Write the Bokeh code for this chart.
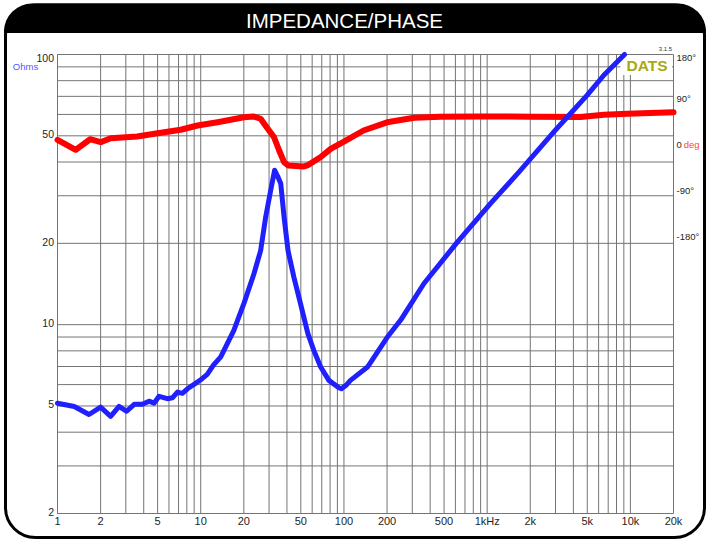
import math
from bokeh.plotting import figure
from bokeh.models import Range1d, LinearScale, Label, BoxAnnotation
from bokeh.core.properties import value
from bokeh.embed import file_html
from bokeh.resources import INLINE

# ---- data ----
freq_z = [1.0, 1.31, 1.66, 2.0, 2.35, 2.69, 3.04, 3.43, 3.92, 4.36, 4.72, 5.12, 5.85, 6.34,
          6.88, 7.44, 8.08, 8.98, 10.0, 11.1, 12.3, 13.8, 17.0, 20.0, 23.5, 26.2, 28.4, 30.8,
          32.8, 34.4, 36.2, 38.2, 40.7, 44.7, 49.1, 56.0, 61.6, 68.8, 78.5, 92.2, 96.0, 103,
          111, 146, 201, 249, 362, 619, 1057, 1665, 2921, 3820, 4994, 6520, 9100]
impedance = [5.12, 4.98, 4.65, 4.95, 4.58, 4.98, 4.78, 5.07, 5.07, 5.21, 5.12, 5.43, 5.32, 5.36,
             5.63, 5.57, 5.79, 6.01, 6.25, 6.55, 7.1, 7.6, 9.5, 11.96, 15.4, 18.8, 25.0, 31.4,
             37.3, 35.5, 33.3, 25.0, 18.8, 15.0, 12.3, 9.26, 8.03, 6.97, 6.22, 5.84, 5.79, 5.95,
             6.22, 6.97, 9.0, 10.4, 14.2, 20.2, 28.1, 36.7, 51.7, 60.5, 70.7, 83.8, 100]

freq_ph = [1.0, 1.34, 1.69, 2.0, 2.35, 3.6, 5.0, 7.25, 9.5, 13.1, 20.0, 23.5, 26.2, 28.3,
           32.5, 35.3, 38.2, 40.8, 52.5, 55.5, 68.5, 80.8, 100, 137, 200, 309, 473, 900,
           2000, 4500, 6520, 9500, 20000]
phase = [12.7, -6.9, 13.9, 8.0, 15.9, 19.2, 25.7, 32.4, 40.8, 47.3, 57.0, 58.4, 54.0, 40.8,
         17.8, -8.2, -31.0, -37.6, -39.6, -37.6, -21.4, -5.0, 9.0, 31.0, 47.0, 56.0, 58.0, 58.5,
         58.0, 57.5, 62.0, 64.0, 67.0]

x_tick_values = [1, 2, 5, 10, 20, 50, 100, 200, 500, 1000, 2000, 5000, 10000, 20000]
x_tick_labels = ["1", "2", "5", "10", "20", "50", "100", "200", "500", "1kHz", "2k", "5k", "10k", "20k"]
y_tick_values = [2, 5, 10, 20, 50, 100]
y_tick_labels = ["2", "5", "10", "20", "50", "100"]
phase_tick_values = [180, 90, 0, -90, -180]
phase_tick_labels = ["180°", "90°", "0", "-90°", "-180°"]

x_grid_values = [1, 2, 3, 4, 5, 6, 7, 8, 9, 10, 20, 30, 40, 50, 60, 70, 80, 90,
                 100, 200, 300, 400, 500, 600, 700, 800, 900,
                 1000, 2000, 3000, 4000, 5000, 6000, 7000, 8000, 9000, 10000]
y_grid_values = [3, 4, 5, 6, 7, 8, 9, 10, 20, 30, 40, 50, 60, 70, 80, 90]

# ---- layout constants (pixels) ----
W, H = 708, 539
XL, XR, YT, YB = 57.0, 673.0, 54.0, 513.0          # chart area inside the canvas
FMIN, FMAX, ZMIN, ZMAX, PMIN, PMAX = 1, 20000, 2, 100, -720, 180

FONT = "Liberation Sans"
GRID = "#747474"
TXT = "#1e1e1e"

# ranges extended so that the chart area sits at the reference's place in the canvas
xdec = (XR - XL) / math.log10(FMAX / FMIN)
ydec = (YB - YT) / math.log10(ZMAX / ZMIN)
dpp = (PMAX - PMIN) / (YB - YT)
x_rng = Range1d(FMIN * 10 ** (-XL / xdec), FMAX * 10 ** ((W - XR) / xdec))
y_rng = Range1d(ZMIN * 10 ** (-(H - YB) / ydec), ZMAX * 10 ** (YT / ydec))
ph_rng = Range1d(PMIN - (H - YB) * dpp, PMAX + YT * dpp)

p = figure(width=W, height=H, x_axis_type="log", y_axis_type="log",
           x_range=x_rng, y_range=y_rng, x_axis_location=None, y_axis_location=None,
           output_backend="svg", toolbar_location=None, title=None, min_border=0)
p.outline_line_color = None
p.background_fill_color = "white"
p.border_fill_color = "white"
p.xgrid.visible = False
p.ygrid.visible = False
p.extra_y_ranges = {"phase": ph_rng}
p.extra_y_scales = {"phase": LinearScale()}

# grid + chart outline
p.segment(x0=x_grid_values, y0=[ZMIN] * len(x_grid_values), x1=x_grid_values,
          y1=[ZMAX] * len(x_grid_values), line_color=GRID, line_width=1, level="image")
p.segment(x0=[FMIN] * len(y_grid_values), y0=y_grid_values, x1=[FMAX] * len(y_grid_values),
          y1=y_grid_values, line_color=GRID, line_width=1, level="image")
p.quad(left=[FMIN], right=[FMAX], bottom=[ZMIN], top=[ZMAX], fill_color=None,
       line_color=GRID, line_width=1, level="image")

# white box behind the logo
p.add_layout(BoxAnnotation(left=620, right=671.5, top=54.5, bottom=74.5,
                           left_units="canvas", right_units="canvas",
                           top_units="canvas", bottom_units="canvas",
                           fill_color="white", fill_alpha=1, line_alpha=0, level="underlay"))

# curves
p.line(freq_ph, phase, y_range_name="phase", line_color="#ff0000", line_width=6,
       line_join="round", line_cap="round")
p.line(freq_z, impedance, line_color="#2020ff", line_width=5,
       line_join="round", line_cap="round")

# tick labels
p.text(x=x_tick_values, y=[ZMIN] * len(x_tick_values), text=x_tick_labels,
       text_align="center", text_baseline="middle", y_offset=7.7,
       text_font=value(FONT), text_font_size="11px", text_color=TXT)
p.text(x=[FMIN] * len(y_tick_values), y=y_tick_values, text=y_tick_labels,
       text_align="right", text_baseline="middle", x_offset=-3.5,
       y_offset=[-1.5 if v < ZMAX else 3.8 for v in y_tick_values],
       text_font=value(FONT), text_font_size="10.5px", text_color=TXT)
p.text(x=[FMAX] * len(phase_tick_values), y=phase_tick_values, y_range_name="phase",
       text=phase_tick_labels, text_align="left", text_baseline="middle", x_offset=3,
       y_offset=[-1.6 if v < PMAX else 2.7 for v in phase_tick_values],
       text_font=value(FONT), text_font_size="9.5px", text_color=TXT)

# title bar and outer rounded border
p.add_layout(BoxAnnotation(left=3.5, right=705.5, top=3, bottom=32.5,
                           left_units="canvas", right_units="canvas",
                           top_units="canvas", bottom_units="canvas",
                           fill_color="black", fill_alpha=1, line_alpha=0,
                           border_radius=(28, 28, 0, 0)))
p.add_layout(BoxAnnotation(left=5, right=704, top=4.5, bottom=537,
                           left_units="canvas", right_units="canvas",
                           top_units="canvas", bottom_units="canvas",
                           fill_alpha=0, line_color="black", line_alpha=1, line_width=3,
                           border_radius=30))

p.add_layout(Label(x=344, y=20, x_units="canvas", y_units="canvas", text="IMPEDANCE/PHASE",
                   text_align="center", text_baseline="middle", text_color="white",
                   text_font=FONT, text_font_size="20.5px"))
p.add_layout(Label(x=37.7, y=65.8, x_units="canvas", y_units="canvas", text="Ohms",
                   text_align="right", text_baseline="middle", text_color="#5555ff",
                   text_font=FONT, text_font_size="9.5px"))
p.add_layout(Label(x=626, y=65, x_units="canvas", y_units="canvas", text="DATS",
                   text_align="left", text_baseline="middle", text_color="#a9a90f",
                   text_font=FONT, text_font_size="15.5px", text_font_style="bold"))
p.add_layout(Label(x=671.7, y=48.3, x_units="canvas", y_units="canvas", text="3.1.5",
                   text_align="right", text_baseline="middle", text_color="#333333",
                   text_font=FONT, text_font_size="6px"))
p.add_layout(Label(x=683.3, y=144.3, x_units="canvas", y_units="canvas", text="deg",
                   text_align="left", text_baseline="middle", text_color="#ff4444",
                   text_font=FONT, text_font_size="9.5px"))

open("out.html", "w").write(file_html(p, INLINE))
